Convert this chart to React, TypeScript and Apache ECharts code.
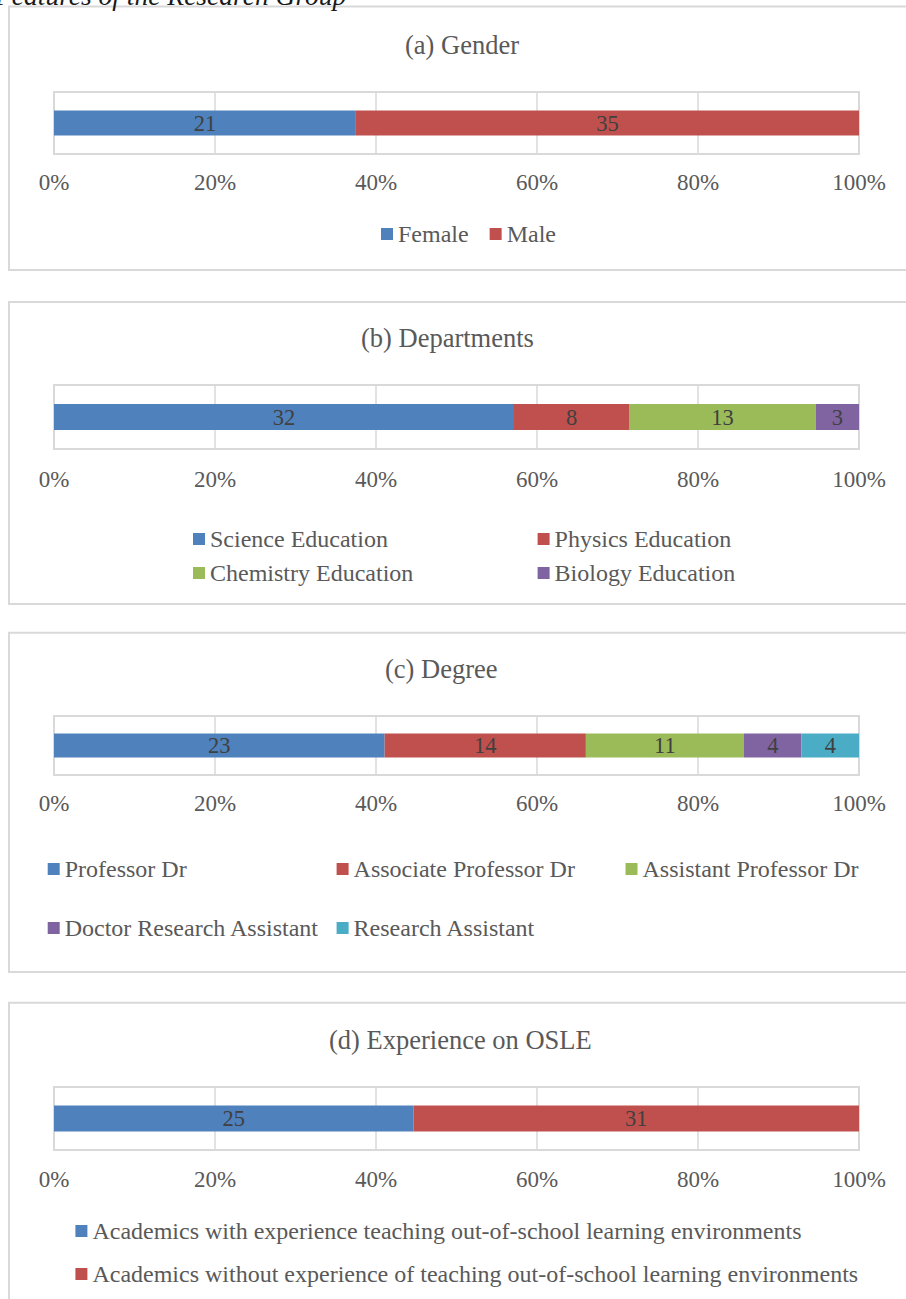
import React, { useEffect, useRef } from "react";
import * as echarts from "echarts";

const genderNames = ["Female", "Male"];
const genderCounts = [21, 35];
const deptNames = ["Science Education", "Physics Education", "Chemistry Education", "Biology Education"];
const deptCounts = [32, 8, 13, 3];
const degreeNames = [
  "Professor Dr",
  "Associate Professor Dr",
  "Assistant Professor Dr",
  "Doctor Research Assistant",
  "Research Assistant",
];
const degreeCounts = [23, 14, 11, 4, 4];
const expNames = [
  "Academics with experience teaching out-of-school learning environments",
  "Academics without experience of teaching out-of-school learning environments",
];
const expCounts = [25, 31];
const panelTitles = ["(a) Gender", "(b) Departments", "(c) Degree", "(d) Experience on OSLE"];
const caption = "Features of the Research Group";

const COLORS = ["#4F81BD", "#C0504D", "#9BBB59", "#8064A2", "#4BACC6"];
const FONT = '"Liberation Serif", "Times New Roman", serif';
const TXT = "#595959";
const GRIDC = "#D9D9D9";

export default function App() {
  const ref = useRef<HTMLDivElement>(null);
  useEffect(() => {
    if (!ref.current) return;
    const chart = echarts.init(ref.current, null, { renderer: "svg" });

    const panels = [
      { names: genderNames, counts: genderCounts, gridTop: 92, gridH: 62, barW: 25, margin: 17 },
      { names: deptNames, counts: deptCounts, gridTop: 385, gridH: 64, barW: 26, margin: 19 },
      { names: degreeNames, counts: degreeCounts, gridTop: 716, gridH: 59, barW: 24, margin: 17 },
      { names: expNames, counts: expCounts, gridTop: 1087, gridH: 63, barW: 26, margin: 18 },
    ];

    const grids: any[] = [];
    const xAxes: any[] = [];
    const yAxes: any[] = [];
    const series: any[] = [];
    panels.forEach((p, i) => {
      grids.push({
        left: 54,
        width: 805,
        top: p.gridTop,
        height: p.gridH,
        show: true,
        borderColor: GRIDC,
        borderWidth: 2,
        containLabel: false,
      });
      xAxes.push({
        gridIndex: i,
        type: "value",
        min: 0,
        max: 100,
        interval: 20,
        axisLine: { show: true, lineStyle: { color: GRIDC, width: 2 } },
        axisTick: { show: false },
        splitLine: { show: true, lineStyle: { color: GRIDC, width: 1.5 } },
        axisLabel: {
          formatter: "{value}%",
          color: TXT,
          fontFamily: FONT,
          fontSize: 23,
          margin: p.margin,
        },
      });
      yAxes.push({
        gridIndex: i,
        type: "category",
        data: [""],
        axisLine: { show: false },
        axisTick: { show: false },
        axisLabel: { show: false },
      });
      const total = p.counts.reduce((a, b) => a + b, 0);
      p.names.forEach((n, k) => {
        series.push({
          type: "bar",
          name: n,
          xAxisIndex: i,
          yAxisIndex: i,
          stack: "s" + i,
          barWidth: p.barW,
          itemStyle: { color: COLORS[k] },
          label: {
            show: true,
            position: "inside",
            color: "#404040",
            fontFamily: FONT,
            fontSize: 22.5,
            formatter: String(p.counts[k]),
          },
          data: [(p.counts[k] / total) * 100],
        });
      });
    });

    const legendBase = {
      orient: "horizontal",
      padding: 0,
      icon: "rect",
      itemWidth: 12,
      itemHeight: 12,
      itemGap: 21,
      selectedMode: false,
      textStyle: { color: TXT, fontFamily: FONT, fontSize: 24, lineHeight: 24 },
    };
    const legends = [
      { ...legendBase, data: genderNames, left: 381, top: 222 },
      { ...legendBase, data: [deptNames[0]], left: 193, top: 527 },
      { ...legendBase, data: [deptNames[1]], left: 537.6, top: 527 },
      { ...legendBase, data: [deptNames[2]], left: 193, top: 561 },
      { ...legendBase, data: [deptNames[3]], left: 537.6, top: 561 },
      { ...legendBase, data: [degreeNames[0]], left: 47.7, top: 857 },
      { ...legendBase, data: [degreeNames[1]], left: 336.6, top: 857 },
      { ...legendBase, data: [degreeNames[2]], left: 625.5, top: 857 },
      { ...legendBase, data: [degreeNames[3]], left: 47.7, top: 916 },
      { ...legendBase, data: [degreeNames[4]], left: 336.6, top: 916 },
      { ...legendBase, data: [expNames[0]], left: 75.4, top: 1219 },
      { ...legendBase, data: [expNames[1]], left: 75.4, top: 1262 },
    ];

    const titleLefts = [405, 361, 385, 329];
    const titleTops = [30, 323, 654, 1025];
    const titles = panelTitles.map((t, i) => ({
      text: t,
      left: titleLefts[i],
      top: titleTops[i],
      padding: 0,
      textStyle: { color: TXT, fontFamily: FONT, fontSize: 26.5, fontWeight: "normal", lineHeight: 30 },
    }));

    const boxes = [
      [6.5, 270],
      [302, 604],
      [632.7, 972],
      [1002.7, 1320],
    ];

    chart.setOption({
      animation: false,
      backgroundColor: "#ffffff",
      title: titles,
      legend: legends,
      grid: grids,
      xAxis: xAxes,
      yAxis: yAxes,
      series,
      graphic: [
        ...boxes.map((b) => ({
          type: "rect",
          shape: { x: 9, y: b[0], width: 930, height: b[1] - b[0] },
          style: { fill: "none", stroke: GRIDC, lineWidth: 2 },
          z: -1,
        })),
        {
          type: "text",
          x: -5,
          y: 9,
          style: {
            text: caption,
            fill: "#1a1a1a",
            font: 'italic 27.5px "Liberation Serif", "Times New Roman", serif',
            verticalAlign: "bottom",
          },
        },
      ],
    });
    return () => chart.dispose();
  }, []);
  return (
    <div
      ref={ref}
      style={{ position: "absolute", left: 0, top: 0, width: 906, height: 1299 }}
    />
  );
}
